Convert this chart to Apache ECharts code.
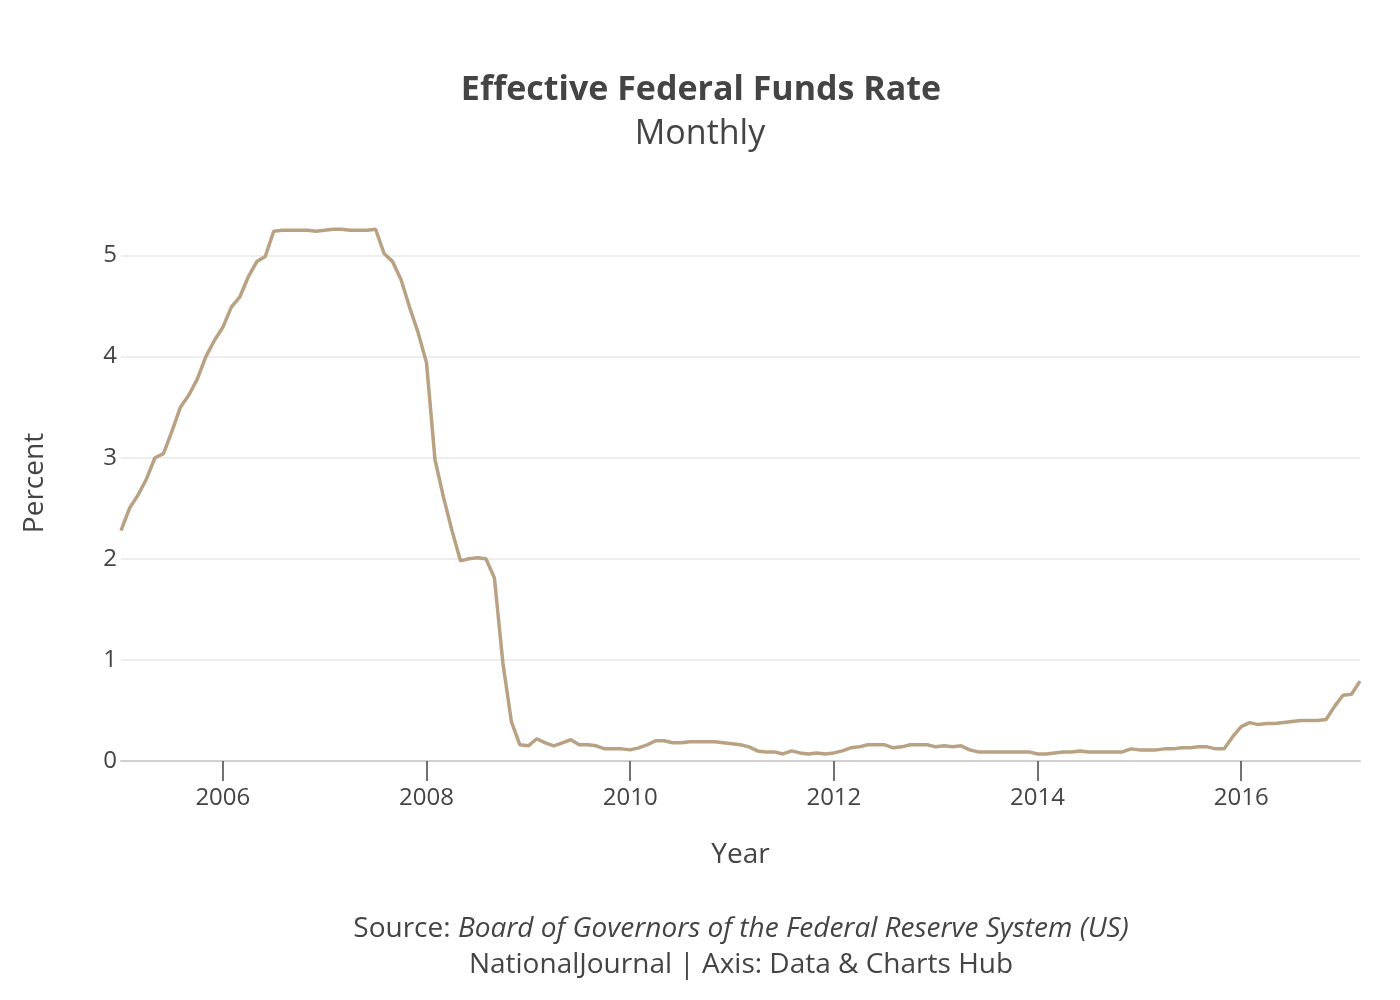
<!DOCTYPE html>
<html>
<head>
<meta charset="utf-8">
<script src="https://cdn.jsdelivr.net/npm/echarts@6/dist/echarts.min.js"></script>
<style>
html,body{margin:0;padding:0;background:#fff;}
#chart{width:1400px;height:1000px;}
</style>
</head>
<body>
<div id="chart"></div>
<script>
// Monthly series starting January 2005
const startYear = 2005;
const rates = [
  2.28, 2.50, 2.63, 2.79, 3.00, 3.04, 3.26, 3.50, 3.62, 3.78, 4.00, 4.16,
  4.29, 4.49, 4.59, 4.79, 4.94, 4.99, 5.24, 5.25, 5.25, 5.25, 5.25, 5.24,
  5.25, 5.26, 5.26, 5.25, 5.25, 5.25, 5.26, 5.02, 4.94, 4.76, 4.49, 4.24,
  3.94, 2.98, 2.61, 2.28, 1.98, 2.00, 2.01, 2.00, 1.81, 0.97, 0.39, 0.16,
  0.15, 0.22, 0.18, 0.15, 0.18, 0.21, 0.16, 0.16, 0.15, 0.12, 0.12, 0.12,
  0.11, 0.13, 0.16, 0.20, 0.20, 0.18, 0.18, 0.19, 0.19, 0.19, 0.19, 0.18,
  0.17, 0.16, 0.14, 0.10, 0.09, 0.09, 0.07, 0.10, 0.08, 0.07, 0.08, 0.07,
  0.08, 0.10, 0.13, 0.14, 0.16, 0.16, 0.16, 0.13, 0.14, 0.16, 0.16, 0.16,
  0.14, 0.15, 0.14, 0.15, 0.11, 0.09, 0.09, 0.09, 0.09, 0.09, 0.09, 0.09,
  0.07, 0.07, 0.08, 0.09, 0.09, 0.10, 0.09, 0.09, 0.09, 0.09, 0.09, 0.12,
  0.11, 0.11, 0.11, 0.12, 0.12, 0.13, 0.13, 0.14, 0.14, 0.12, 0.12, 0.24,
  0.34, 0.38, 0.36, 0.37, 0.37, 0.38, 0.39, 0.40, 0.40, 0.40, 0.41, 0.54,
  0.65, 0.66, 0.79
];
const xTicks = [2006, 2008, 2010, 2012, 2014, 2016];

const seriesData = rates.map((v, i) => [startYear + i / 12, v]);
const xMax = startYear + (rates.length - 1) / 12;

const textColor = '#444';
const font = 'Open Sans';

const chart = echarts.init(document.getElementById('chart'));
chart.setOption({
  animation: false,
  backgroundColor: '#fff',
  textStyle: { fontFamily: font },
  title: [
    {
      text: 'Effective Federal Funds Rate',
      left: 696, top: 68, textAlign: 'center',
      textStyle: { fontFamily: font, fontSize: 34, fontWeight: 'bold', color: textColor }
    },
    {
      text: 'Monthly',
      left: 695, top: 112, textAlign: 'center',
      textStyle: { fontFamily: font, fontSize: 34, fontWeight: 'normal', color: textColor }
    },
    {
      text: '{a|Source: }{b|Board of Governors of the Federal Reserve System (US)}\n{a|NationalJournal | Axis: Data & Charts Hub}',
      left: 736, top: 906, textAlign: 'center',
      textStyle: {
        fontWeight: 'normal',
        rich: {
          a: { fontFamily: font, fontSize: 28, fontWeight: 'normal', color: textColor, lineHeight: 36 },
          b: { fontFamily: font, fontSize: 28, fontWeight: 'normal', color: textColor, fontStyle: 'italic', lineHeight: 36 }
        }
      }
    }
  ],
  grid: { left: 121, right: 40, top: 205, bottom: 239, containLabel: false },
  xAxis: {
    type: 'value',
    min: startYear,
    max: xMax,
    name: 'Year',
    nameLocation: 'middle',
    nameGap: 80,
    nameTextStyle: { fontFamily: font, fontSize: 28, color: textColor },
    axisLine: { show: true, lineStyle: { color: '#d0d0d0', width: 2 } },
    axisTick: { show: true, length: 20, customValues: xTicks, lineStyle: { color: textColor, width: 1.5 } },
    axisLabel: { customValues: xTicks, margin: 25, fontSize: 24, color: textColor, fontFamily: font,
      formatter: v => String(Math.round(v)) },
    splitLine: { show: false }
  },
  yAxis: {
    type: 'value',
    min: 0,
    max: 5.5,
    interval: 1,
    name: 'Percent',
    nameLocation: 'middle',
    nameGap: 72,
    nameRotate: 90,
    nameTextStyle: { fontFamily: font, fontSize: 28, color: textColor },
    axisLine: { show: false },
    axisTick: { show: false },
    axisLabel: { margin: 4, fontSize: 24, color: textColor, fontFamily: font, showMaxLabel: false },
    splitLine: { show: true, showMinLine: false, showMaxLine: false, lineStyle: { color: '#eeeeee', width: 2 } }
  },
  series: [{
    type: 'line',
    data: seriesData,
    showSymbol: false,
    symbol: 'none',
    lineStyle: { color: '#b8a283', width: 3.5 },
    z: 3
  }]
});
</script>
</body>
</html>
